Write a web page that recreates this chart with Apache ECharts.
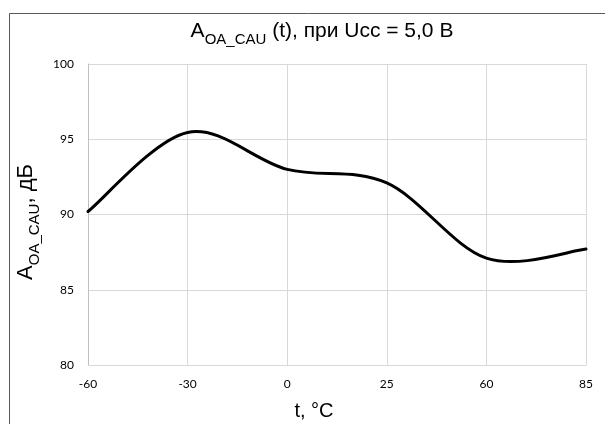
<!DOCTYPE html>
<html>
<head>
<meta charset="utf-8">
<script src="https://cdn.jsdelivr.net/npm/echarts@6/dist/echarts.min.js"></script>
<style>html,body{margin:0;padding:0;background:#fff}#c{width:605px;height:424px}</style>
</head>
<body>
<div id="c"></div>
<script>
const categories = ['-60', '-30', '0', '25', '60', '85'];
const gainValues = [90.2, 95.45, 93.0, 92.1, 87.1, 87.7];
const yTicks = { min: 80, max: 100, interval: 5 };

function richFor(big, small) {
  return {
    a: { fontFamily: 'Liberation Sans', fontSize: big, fontWeight: 'normal', color: '#000', verticalAlign: 'bottom', lineHeight: 28 },
    s: { fontFamily: 'Liberation Sans', fontSize: small, fontWeight: 'normal', color: '#000', verticalAlign: 'bottom', lineHeight: 28, padding: [0, 0, -5, 0] }
  };
}

// Excel-style smoothed line (Catmull-Rom Bezier) drawn through axis coordinates
function renderSmooth(params, api) {
  if (params.dataIndex !== 0) return null;
  const n = gainValues.length;
  const pts = [];
  for (let i = 0; i < n; i++) pts.push(api.coord([i, gainValues[i]]));
  let d = 'M' + pts[0][0] + ' ' + pts[0][1];
  for (let i = 0; i < n - 1; i++) {
    const p0 = pts[Math.max(i - 1, 0)];
    const p1 = pts[i];
    const p2 = pts[i + 1];
    const p3 = pts[Math.min(i + 2, n - 1)];
    const c1 = [p1[0] + (p2[0] - p0[0]) / 6, p1[1] + (p2[1] - p0[1]) / 6];
    const c2 = [p2[0] - (p3[0] - p1[0]) / 6, p2[1] - (p3[1] - p1[1]) / 6];
    d += ' C' + c1[0] + ' ' + c1[1] + ' ' + c2[0] + ' ' + c2[1] + ' ' + p2[0] + ' ' + p2[1];
  }
  return {
    type: 'path',
    shape: { pathData: d },
    style: { fill: 'none', stroke: '#000', lineWidth: 3, lineJoin: 'round', lineCap: 'round' }
  };
}

const chart = echarts.init(document.getElementById('c'));
chart.setOption({
  animation: false,
  backgroundColor: '#fff',
  graphic: [{
    type: 'rect',
    shape: { x: 9.5, y: 13.5, width: 640, height: 440 },
    style: { fill: 'none', stroke: '#595959', lineWidth: 1 },
    silent: true
  }],
  title: {
    text: '{a|A}{s|OA_CAU}{a| (t), при Ucc = 5,0 В}',
    left: 317, top: 9, textAlign: 'center',
    textStyle: { fontWeight: 'normal', fontSize: 21, rich: richFor(21, 15) }
  },
  grid: { left: 88, right: 19, top: 64, bottom: 59, containLabel: false, outerBoundsMode: 'none' },
  xAxis: {
    type: 'category',
    data: categories,
    boundaryGap: false,
    axisLine: { show: true, lineStyle: { color: '#d9d9d9', width: 1 } },
    axisTick: { show: false },
    splitLine: { show: true, lineStyle: { color: '#d9d9d9', width: 1 } },
    axisLabel: { fontFamily: 'Lato', fontSize: 12, color: '#000', margin: 13 },
    name: 't, °C',
    nameLocation: 'middle',
    nameGap: 36,
    nameTextStyle: { fontFamily: 'Liberation Sans', fontSize: 20, color: '#000', padding: [0, 46, 0, 0] }
  },
  yAxis: {
    type: 'value',
    min: yTicks.min, max: yTicks.max, interval: yTicks.interval,
    axisLine: { show: true, lineStyle: { color: '#bfbfbf', width: 1 } },
    axisTick: { show: false },
    splitLine: { show: true, lineStyle: { color: '#d9d9d9', width: 1 } },
    axisLabel: { fontFamily: 'Lato', fontSize: 12, color: '#000', margin: 14 },
    name: '{a|A}{s|OA_CAU}{a|, дБ}',
    nameLocation: 'middle',
    nameGap: 30,
    nameTextStyle: { fontFamily: 'Liberation Sans', fontSize: 22, color: '#000', padding: [0, 15, 0, 0], rich: richFor(22, 15) }
  },
  series: [{
    type: 'custom',
    data: gainValues.map((v, i) => [i, v]),
    encode: { x: 0, y: 1 },
    renderItem: renderSmooth,
    clip: false
  }]
});
</script>
</body>
</html>
